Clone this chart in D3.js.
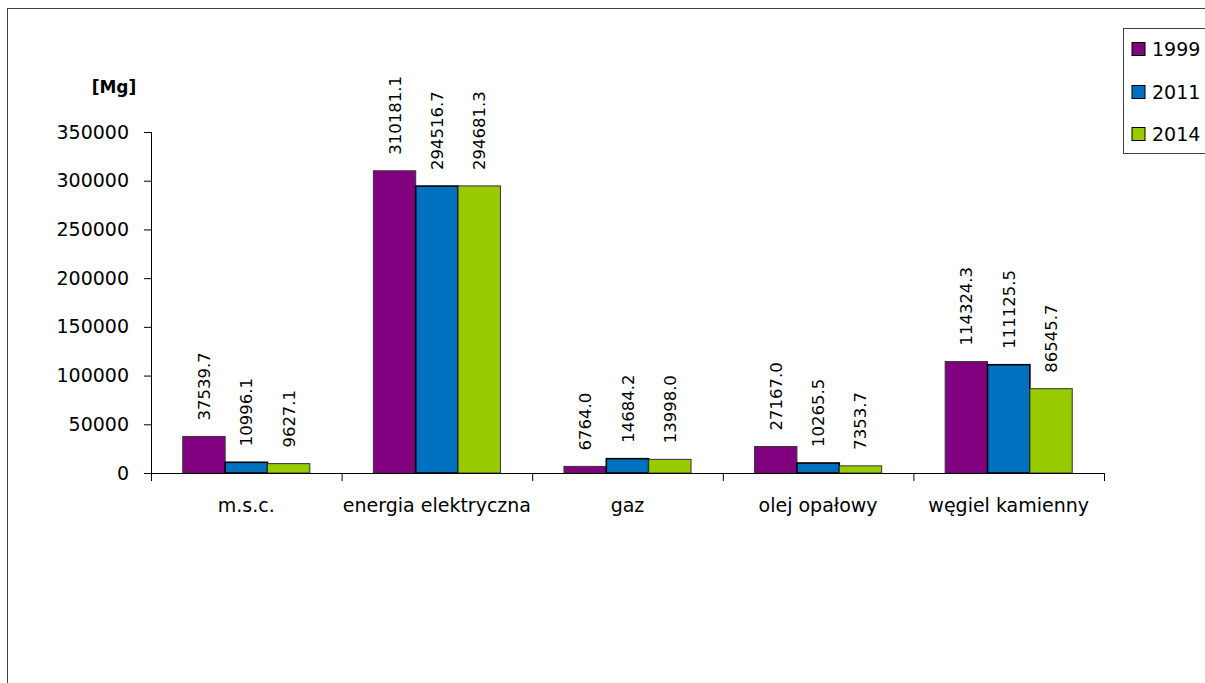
<!DOCTYPE html>
<html>
<head>
<meta charset="utf-8">
<script src="https://cdn.jsdelivr.net/npm/d3@7"></script>
<style>
  html, body { margin: 0; padding: 0; background: #fff; }
  svg { display: block; }
  text { font-family: "DejaVu Sans", sans-serif; fill: #000; }
</style>
</head>
<body>
<svg id="chart" width="1205" height="683"></svg>
<script>
const categories = ["m.s.c.", "energia elektryczna", "gaz", "olej opałowy", "węgiel kamienny"];
const seriesNames = ["1999", "2011", "2014"];
const values1999 = [37539.7, 310181.1, 6764.0, 27167.0, 114324.3];
const values2011 = [10996.1, 294516.7, 14684.2, 10265.5, 111125.5];
const values2014 = [9627.1, 294681.3, 13998.0, 7353.7, 86545.7];
const yTicks = [0, 50000, 100000, 150000, 200000, 250000, 300000, 350000];
const colors = ["#800080", "#0070C0", "#99CC00"];
const seriesValues = [values1999, values2011, values2014];

(function () {
const svg = d3.select("#chart");

// outer frame
svg.append("rect").attr("x", 7.5).attr("y", 8.5).attr("width", 1220).attr("height", 700)
  .attr("fill", "none").attr("stroke", "#404040").attr("stroke-width", 1);

const pLeft = 151, pRight = 1104, pTop = 132, pBottom = 473;

const x0 = d3.scaleBand().domain(categories).range([pLeft, pRight]).paddingInner(0).paddingOuter(0);
const x1 = d3.scaleBand().domain(seriesNames).range([0, x0.bandwidth()]).paddingInner(0).paddingOuter(0.75);
const y = d3.scaleLinear().domain([0, 350000]).range([pBottom, pTop]);

const data = [];
categories.forEach((c, i) => {
  seriesNames.forEach((s, j) => {
    data.push({cat: c, ser: s, val: seriesValues[j][i], color: colors[j]});
  });
});

const g = svg.append("g");
g.selectAll("rect.bar").data(data).join("rect")
  .attr("class", "bar")
  .attr("x", d => x0(d.cat) + x1(d.ser))
  .attr("y", d => y(d.val))
  .attr("width", x1.bandwidth())
  .attr("height", d => y(0) - y(d.val))
  .attr("fill", d => d.color)
  .attr("stroke", d => d.ser === "2011" ? "#000" : "#333")
  .attr("stroke-width", d => d.ser === "2011" ? 1.6 : 1);

g.selectAll("text.val").data(data).join("text")
  .attr("class", "val")
  .attr("transform", d => `translate(${x0(d.cat) + x1(d.ser) + x1.bandwidth() / 2 + 6},${y(d.val) - 16}) rotate(-90)`)
  .attr("text-anchor", "start")
  .style("font-size", "16.5px")
  .text(d => d.val.toFixed(1));

const yAxis = d3.axisLeft(y).tickValues(yTicks).tickSize(7).tickPadding(15).tickFormat(d3.format("d"));
const ya = svg.append("g").attr("transform", `translate(${pLeft},0)`).call(yAxis);
ya.select(".domain").attr("stroke", "#000").attr("d", `M0.5,${pTop}V${pBottom}`);
ya.selectAll(".tick line").attr("stroke", "#000");
ya.selectAll(".tick text").style("font-size", "19px").style("font-family", "DejaVu Sans");

const xa = svg.append("g").attr("transform", `translate(0,${pBottom})`);
xa.append("line").attr("x1", pLeft).attr("x2", pRight).attr("y1", 0.5).attr("y2", 0.5).attr("stroke", "#000");
const boundaries = categories.map(c => x0(c)).concat([pRight]);
xa.selectAll("line.tk").data(boundaries).join("line")
  .attr("class", "tk")
  .attr("x1", d => d + 0.5).attr("x2", d => d + 0.5)
  .attr("y1", 0).attr("y2", 8).attr("stroke", "#000");
xa.selectAll("text.cat").data(categories).join("text")
  .attr("class", "cat")
  .attr("x", d => x0(d) + x0.bandwidth() / 2)
  .attr("y", 39)
  .attr("text-anchor", "middle")
  .style("font-size", "19px")
  .text(d => d);

svg.append("text").attr("x", 114).attr("y", 93).attr("text-anchor", "middle")
  .style("font-size", "17px").style("font-weight", "bold").text("[Mg]");

const lg = svg.append("g");
lg.append("rect").attr("x", 1123.5).attr("y", 28.5).attr("width", 100).attr("height", 125)
  .attr("fill", "#fff").attr("stroke", "#404040");
const ly = [49, 92, 134];
seriesNames.forEach((s, j) => {
  lg.append("rect").attr("x", 1132).attr("y", ly[j] - 6.5).attr("width", 13).attr("height", 13)
    .attr("fill", colors[j]).attr("stroke", "#000").attr("stroke-width", 1);
  lg.append("text").attr("x", 1152).attr("y", ly[j]).attr("dy", "0.35em")
    .style("font-size", "19px").text(s);
});
})();
</script>
</body>
</html>
